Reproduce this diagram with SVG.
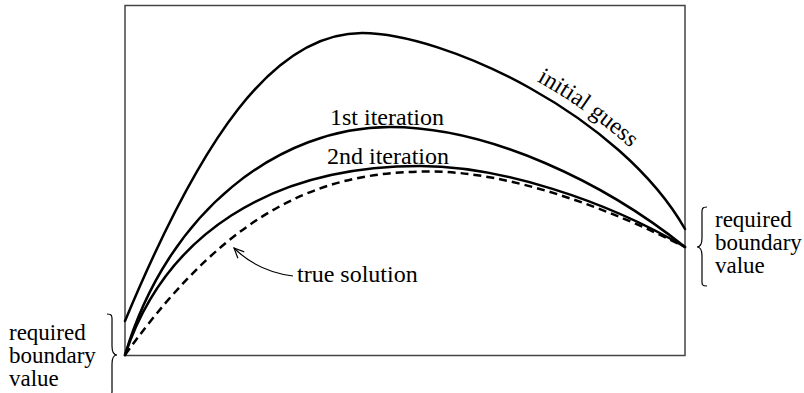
<svg xmlns="http://www.w3.org/2000/svg" xmlns:xlink="http://www.w3.org/1999/xlink" width="804" height="393" viewBox="0 0 804 393">
<style>
.t{font-family:'Liberation Serif','Times New Roman',serif;font-size:24px;fill:#000}
.b{font-size:23px}
.curve{fill:none;stroke:#000;stroke-width:2.5;stroke-linecap:round;stroke-linejoin:round}
.dash{stroke-dasharray:8 5;stroke-linecap:butt}
.thin{fill:none;stroke:#000;stroke-width:1.2}
.frame{fill:none;stroke:#444;stroke-width:1.5}
</style>
<defs>
<marker id="open" markerWidth="14" markerHeight="14" refX="12" refY="6" orient="auto" markerUnits="userSpaceOnUse">
<path d="M2,1.5 L12,6 L2,10.5" fill="none" stroke="#000" stroke-width="1.2"/>
</marker>
<path id="igLabel" d="M367,25 C450,25 625,107 690,221"/>
</defs>
<g id="frame"><rect class="frame" x="125" y="5.5" width="560" height="350"/></g>
<g id="connectors">
<path id="initial-guess" class="curve" d="M125,321 C200,141 272,33 362,33 C445,33 620,115 685,229"/>
<path id="iter1" class="curve" d="M125,355 C168,210 280,127 390,127 C490,127 605,183 685,247"/>
<path id="iter2" class="curve" d="M125,355 C165,235 270,166 420,166 C500,166 605,200 685,247"/>
<path id="true-solution" class="curve dash" d="M125,355 C235,201 330,171.5 430,171.5 C510,171.5 608,208 685,247"/>
<path id="true-arrow" class="thin" d="M293,276 C270,273 250,264 234,248" marker-end="url(#open)"/>
</g>
<g id="label-initial"><text class="t"><textPath xlink:href="#igLabel" href="#igLabel" startOffset="180">initial guess</textPath></text></g>
<g id="label-iter1"><text class="t" x="330" y="125">1st iteration</text></g>
<g id="label-iter2"><text class="t" x="327" y="164">2nd iteration</text></g>
<g id="label-true"><text class="t" x="297" y="282">true solution</text></g>
<g id="left-boundary">
<path class="thin" d="M107,314 C113,314 112,317 112,323 L112,346 C112,352 114,355 117,355 C114,355 112,358 112,364 L112,387 C112,393 113,396 107,396"/>
<text class="t b" x="9" y="340">required</text>
<text class="t b" x="9" y="363">boundary</text>
<text class="t b" x="9" y="386">value</text>
</g>
<g id="right-boundary">
<path class="thin" d="M707,207 C701,207 702,210 702,216 L702,238 C702,244 700,247 697,247 C700,247 702,250 702,256 L702,278 C702,284 701,286 707,286"/>
<text class="t b" x="715" y="227">required</text>
<text class="t b" x="715" y="250">boundary</text>
<text class="t b" x="715" y="273">value</text>
</g>
</svg>
